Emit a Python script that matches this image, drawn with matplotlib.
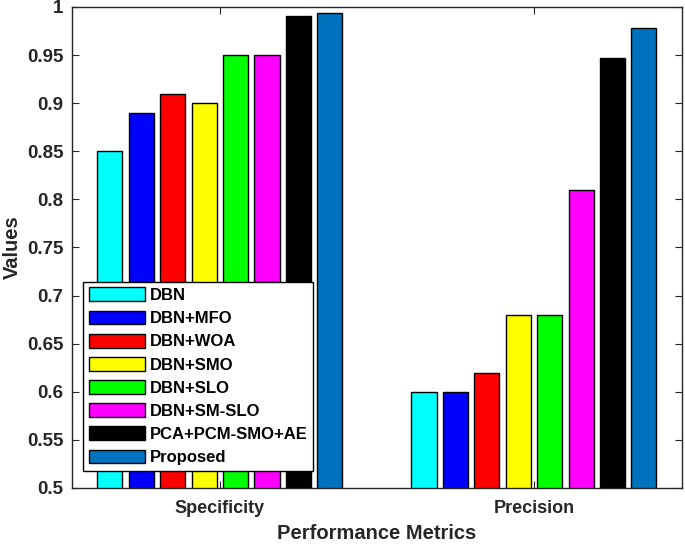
import matplotlib
matplotlib.use("Agg")
import matplotlib.pyplot as plt
import numpy as np

categories = ["Specificity", "Precision"]
methods = ["DBN", "DBN+MFO", "DBN+WOA", "DBN+SMO", "DBN+SLO",
           "DBN+SM-SLO", "PCA+PCM-SMO+AE", "Proposed"]
specificity = [0.85, 0.89, 0.91, 0.90, 0.95, 0.95, 0.991, 0.994]
precision = [0.60, 0.60, 0.62, 0.68, 0.68, 0.81, 0.947, 0.978]
colors = ["#00FFFF", "#0000FF", "#FF0000", "#FFFF00", "#00FF00",
          "#FF00FF", "#000000", "#0072BD"]
yticks = [0.5, 0.55, 0.6, 0.65, 0.7, 0.75, 0.8, 0.85, 0.9, 0.95, 1.0]
ytick_labels = ["0.5", "0.55", "0.6", "0.65", "0.7", "0.75", "0.8",
                "0.85", "0.9", "0.95", "1"]

plt.rcParams['font.family'] = ['Liberation Sans', 'DejaVu Sans']
txt = "#262626"

fig = plt.figure(figsize=(6.85, 5.45), dpi=100)
ax = fig.add_axes([0.105, 0.1046, 0.8905, 0.8826])

values = np.array([specificity, precision])
x = np.arange(1, len(categories) + 1)
n = len(methods)
step = 0.1
width = 0.08
for i, m in enumerate(methods):
    offs = (i - (n - 1) / 2) * step
    ax.bar(x + offs, values[:, i], width=width, bottom=0, color=colors[i],
           edgecolor="black", linewidth=1.0, label=m, zorder=2)

ax.set_xlim(0.529, 2.471)
ax.set_ylim(0.5, 1.0)
ax.set_xticks(x)
ax.set_xticklabels(categories, fontsize=13, fontweight="bold", color=txt)
ax.set_yticks(yticks)
ax.set_yticklabels(ytick_labels, fontsize=13.5, fontweight="bold", color=txt)
ax.tick_params(axis="both", direction="in", length=5, width=0.8,
               top=True, right=True, colors=txt)
ax.tick_params(axis="y", pad=6)
ax.tick_params(axis="x", pad=9)
for s in ax.spines.values():
    s.set_color(txt)
    s.set_linewidth(1.0)

ax.set_xlabel("Performance Metrics", fontsize=14.5, fontweight="bold",
              color=txt, labelpad=5)
ax.set_ylabel("Values", fontsize=14.5, fontweight="bold", color=txt,
              labelpad=4)

leg = ax.legend(loc="lower left", bbox_to_anchor=(0.018, 0.035),
                borderaxespad=0, fancybox=False, framealpha=1,
                edgecolor="black", prop={"size": 12, "weight": "bold"},
                handlelength=3.4, handleheight=0.9, handletextpad=0.25,
                labelspacing=0.45, borderpad=0.35)
leg.get_frame().set_linewidth(1.0)
for t in leg.get_texts():
    t.set_color("black")
leg.set_zorder(5)

fig.savefig("out.png", dpi=100)
